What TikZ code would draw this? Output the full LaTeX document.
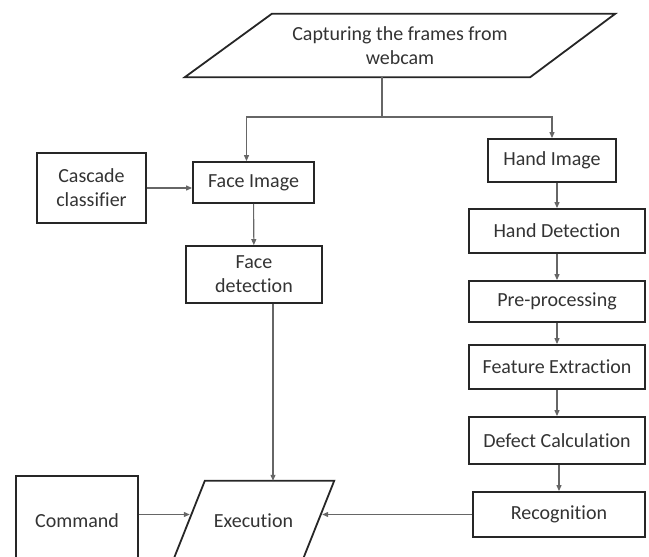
\documentclass[tikz,border=0pt]{standalone}
\usepackage{fontspec}
\setmainfont[Ligatures=NoCommon]{Carlito}
\usetikzlibrary{arrows.meta,calc}

\tikzset{
  txt/.style={inner sep=0pt, align=center, text=black!80,
    font=\fontsize{20}{24}\selectfont},
  box/.style={txt, draw=black!85, line width=1.8pt},
  edge/.style={draw=black!85, line width=1.8pt, line join=miter},
  link/.style={draw=black!60, line width=1.1pt},
  flow/.style={link, -{Triangle[length=6pt,width=5pt]}},
}

\begin{document}
\begin{tikzpicture}[x=1pt, y=-1pt]
    % 画布大小 (下边缘被截掉)
    \clip (0,0) rectangle (649,557);

    % 顶部输入 (平行四边形)
    \node[txt, minimum width=430pt, minimum height=63pt] (capture) at (400,45.5)
      {Capturing the frames from\\webcam};
    \draw[edge] ($(capture.north west)+(87,0)$) -- (capture.north east)
      -- ($(capture.south east)+(-85,0)$) -- (capture.south west) -- cycle;
    \coordinate (split) at (382,117);

    % 左列: 人脸
    \node[box, minimum width=109pt, minimum height=70pt] (cascade) at (91.5,188) {Cascade\\classifier};
    \node[box, minimum width=121pt, minimum height=41pt] (face) at (253.5,182.5) {Face Image};
    \node[box, minimum width=136pt, minimum height=57pt] (facedet) at (254,274.5) {Face\\detection};

    % 右列: 手势
    \node[box, minimum width=128pt, minimum height=43pt] (hand) at (552,160.5) {Hand Image};
    \node[box, minimum width=176pt, minimum height=44pt] (handdet) at (557,231) {Hand Detection};
    \node[box, minimum width=176pt, minimum height=41pt] (pre) at (557,301.5) {Pre-processing};
    \node[box, minimum width=176pt, minimum height=44pt] (feat) at (557,367) {Feature Extraction};
    \node[box, minimum width=176pt, minimum height=47pt] (defect) at (557,440.5) {Defect Calculation};
    \node[box, minimum width=172pt, minimum height=45pt] (rec) at (559,514.5) {Recognition};

    % 底部
    \node[box, minimum width=122pt, minimum height=89pt] (cmd) at (77,520.5) {Command};
    \node[txt, minimum width=161pt, minimum height=80pt] (exec) at (253.5,521) {Execution};
    \draw[edge] ($(exec.north west)+(32,0)$) -- (exec.north east)
      -- ($(exec.south east)+(-32,0)$) -- (exec.south west) -- cycle;

    % 连线
    \draw[link] (split |- capture.south) -- (split);
    \draw[flow] (split) -| ([xshift=-7pt]face.north);
    \draw[flow] (split) -| (hand.north);
    \draw[flow] (cascade.east) -- (cascade.east -| face.west);
    \draw[flow] (face) -- (facedet);
    \draw[flow] (handdet.north |- hand.south) -- (handdet.north);
    \draw[flow] (handdet) -- (pre);
    \draw[flow] (pre) -- (feat);
    \draw[flow] (feat) -- (defect);
    \draw[flow] (defect.south -| rec.north) -- (rec.north);
    \draw[flow] ([xshift=19pt]facedet.south) -- ([xshift=19pt]facedet.south |- exec.north);
    \draw[flow] (cmd.east |- rec.west) -- ($(exec.west |- rec.west)+(17,0)$);
    \draw[flow] (rec.west) -- ($(exec.east |- rec.west)+(-12,0)$);
\end{tikzpicture}
\end{document}
